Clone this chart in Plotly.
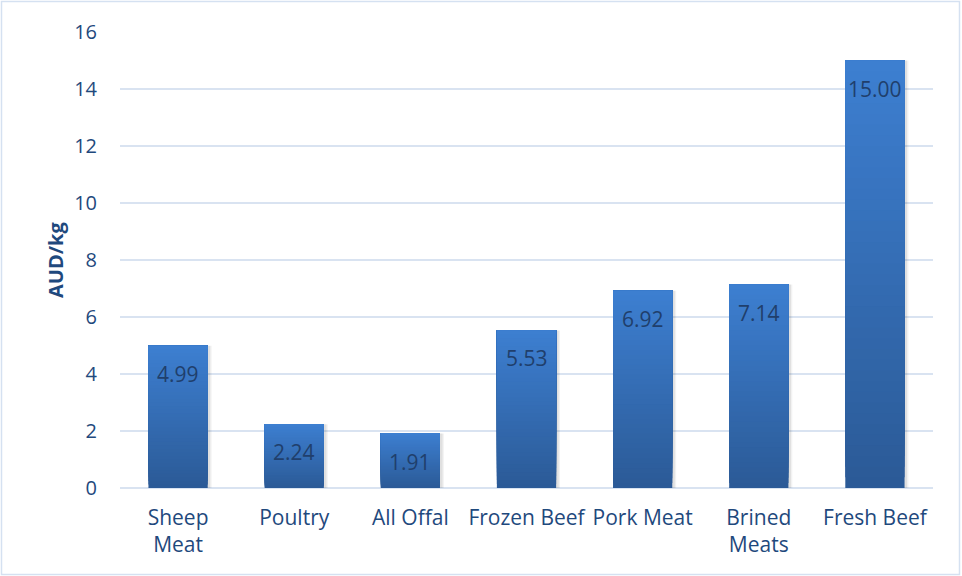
import plotly.graph_objects as go

# Export unit values by meat category (AUD per kg)
categories = ["Sheep<br>Meat", "Poultry", "All Offal", "Frozen Beef", "Pork Meat", "Brined<br>Meats", "Fresh Beef"]
values = [4.99, 2.24, 1.91, 5.53, 6.92, 7.14, 15.00]
y_ticks = [0, 2, 4, 6, 8, 10, 12, 14, 16]

W, H = 962, 576
ML, MR, MT, MB = 120, 29, 32, 88
PW, PH = W - ML - MR, H - MT - MB

TEXT = "#1F497D"
FONT = "Open Sans"
TOP_RGB = (61, 127, 209)
BOT_RGB = (43, 90, 150)
N_STEPS = 40
BAR_W = 0.51


def mix(t):
    r, g, b = (round(BOT_RGB[k] + (TOP_RGB[k] - BOT_RGB[k]) * t) for k in range(3))
    return f"rgb({r},{g},{b})"


fig = go.Figure()

# soft drop shadow to the right of each bar
for k, a in enumerate([0.05, 0.07]):
    fig.add_trace(go.Bar(
        x=categories, y=values,
        width=BAR_W + 0.03 - 0.012 * k, offset=-BAR_W / 2 + 0.004,
        marker=dict(color=f"rgba(0,0,0,{a})", line=dict(width=0)),
        hoverinfo="skip", showlegend=False,
    ))

# vertical gradient: nested bars, each starting a little higher and reaching the full value,
# so successive layers overlap and leave no seams
for i in range(N_STEPS):
    frac = i / N_STEPS
    fig.add_trace(go.Bar(
        x=categories,
        y=[v * (1 - frac) for v in values],
        base=[v * frac for v in values],
        width=BAR_W, offset=-BAR_W / 2,
        marker=dict(color=mix(frac + 0.5 / N_STEPS), line=dict(width=0)),
        hoverinfo="skip",
        showlegend=False,
    ))

# full-height transparent trace carrying the hover values
fig.add_trace(go.Bar(
    x=categories, y=values, base=[0] * len(values),
    width=BAR_W, offset=-BAR_W / 2,
    marker=dict(color="rgba(0,0,0,0)", line=dict(width=0)),
    showlegend=False,
))

# value labels just inside the top of each bar
for c, v in zip(categories, values):
    fig.add_annotation(
        x=c, y=v, text=f"{v:.2f}", showarrow=False, yshift=-28,
        font=dict(family=FONT, size=21, color="#203F6C"),
    )

# y-axis title
fig.add_annotation(
    xref="paper", yref="paper", x=(55 - ML) / PW, y=(488 - 260) / PH,
    xanchor="center", yanchor="middle",
    text="<b>AUD/kg</b>", textangle=-90, showarrow=False,
    font=dict(family=FONT, size=20, color=TEXT),
)

# outer chart frame
fig.add_shape(
    type="rect", xref="paper", yref="paper",
    x0=(1.5 - ML) / PW, x1=(959.5 - ML) / PW,
    y0=-(574.5 - MT - PH) / PH, y1=1 + (MT - 1.5) / PH,
    line=dict(color="#D5E1F1", width=1.5), fillcolor="rgba(0,0,0,0)", layer="below",
)

fig.update_layout(
    width=W, height=H,
    margin=dict(l=ML, r=MR, t=MT, b=MB, pad=0),
    barmode="overlay",
    plot_bgcolor="white", paper_bgcolor="white",
    font=dict(family=FONT, size=21, color=TEXT),
    xaxis=dict(showgrid=False, showline=False, zeroline=False, ticks="",
               ticklabelstandoff=15,
               tickfont=dict(family=FONT, size=21, color=TEXT)),
    yaxis=dict(range=[0, 16], tickvals=y_ticks, showgrid=True, gridcolor="#D9E3F1",
               gridwidth=1.5, zeroline=True, zerolinecolor="#D9E3F1", zerolinewidth=1.5,
               showline=False, ticks="", ticklabelstandoff=22,
               tickfont=dict(family=FONT, size=20, color=TEXT)),
)

fig.write_html("out.html")
